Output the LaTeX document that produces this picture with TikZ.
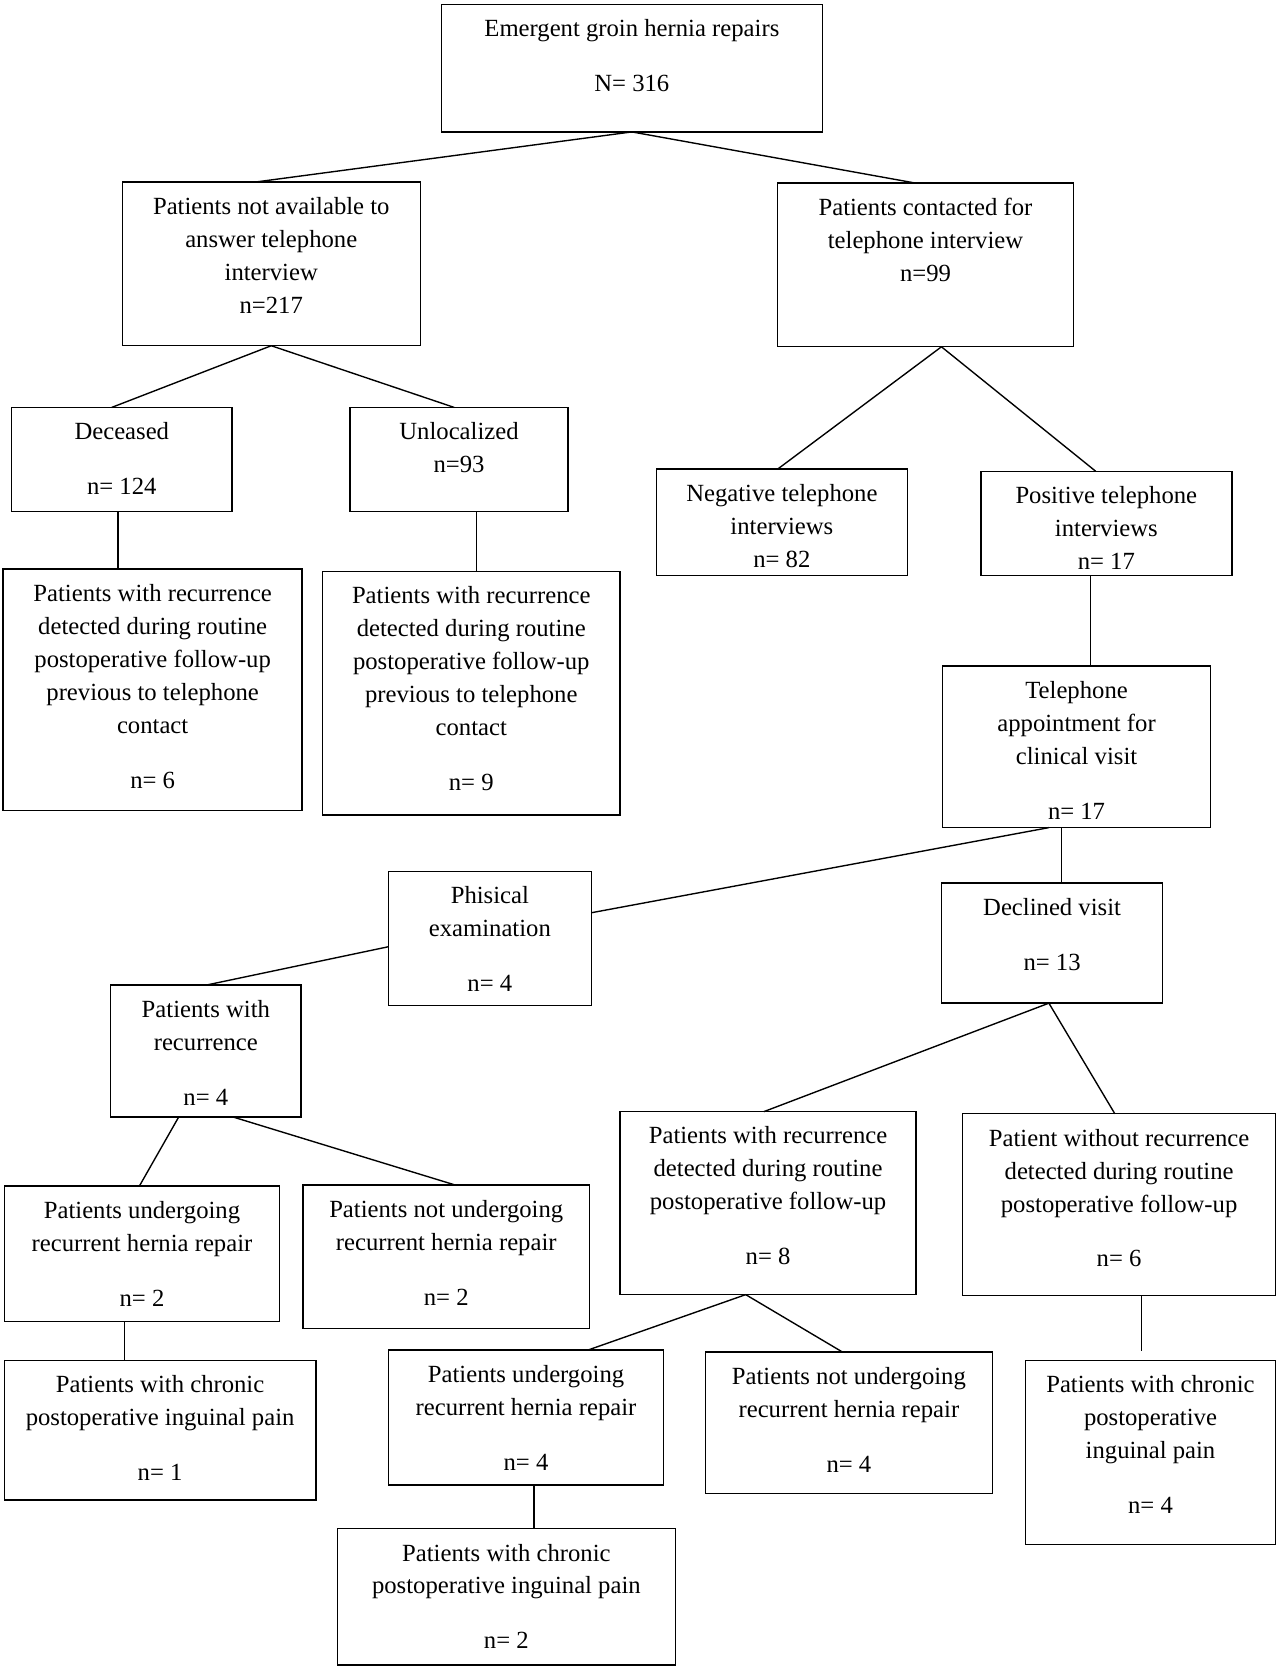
\documentclass[tikz,border=0pt]{standalone}
\usepackage{fontspec}
\setmainfont{Liberation Serif}
\usetikzlibrary{calc}
\tikzset{
  boxst/.style={draw=black, line width=1.3pt, inner sep=0pt, outer sep=0pt, rectangle},
  txt/.style={inner sep=0pt, outer sep=0pt, align=center, font=\fontsize{23.2}{31}\selectfont, execute at begin node=\strut},
  link/.style={draw=black, line width=1.3pt},
}
\newcommand\mybox[6]{%
  \node[boxst, minimum width={(#4)-(#2)}, minimum height={(#5)-(#3)}] (#1) at ({((#2)+(#4))/2},{-((#3)+(#5))/2}) {};
  \node[txt, anchor=north] (#1t) at ({((#2)+(#4))/2},{-(#3)-14.3}) {#6};
}
\begin{document}
\begin{tikzpicture}[x=1pt, y=1pt]
\fill[white] (0,0) rectangle (1203,-1568);
\useasboundingbox (0,0) rectangle (1203,-1568);

\mybox{A}{415}{4}{773}{124}{Emergent groin hernia repairs\\[20.5pt]N= 316}
\mybox{B}{115}{171}{395}{325}{Patients not available to\\answer telephone\\interview\\n=217}
\mybox{C}{731}{172}{1009}{326}{Patients contacted for\\telephone interview\\n=99}
\mybox{D}{11}{383}{218}{481}{Deceased\\[20.5pt]n= 124}
\mybox{E}{329}{383}{534}{481}{Unlocalized\\n=93}
\mybox{F}{3}{535}{284}{762}{Patients with recurrence\\detected during routine\\postoperative follow-up\\previous to telephone\\contact\\[20.5pt]n= 6}
\mybox{G}{303}{537}{583}{766}{Patients with recurrence\\detected during routine\\postoperative follow-up\\previous to telephone\\contact\\[20.5pt]n= 9}
\mybox{H}{617}{441}{853}{541}{Negative telephone\\interviews\\n= 82}
\mybox{I}{922}{443}{1158}{541}{Positive telephone\\interviews\\n= 17}
\mybox{J}{886}{626}{1138}{778}{Telephone\\appointment for\\clinical visit\\[20.5pt]n= 17}
\mybox{K}{365}{819}{556}{945}{Phisical\\examination\\[20.5pt]n= 4}
\mybox{L}{885}{830}{1093}{943}{Declined visit\\[20.5pt]n= 13}
\mybox{M}{104}{926}{283}{1050}{Patients with\\recurrence\\[20.5pt]n= 4}
\mybox{N}{4}{1115}{263}{1242}{Patients undergoing\\recurrent hernia repair\\[20.5pt]n= 2}
\mybox{O}{285}{1114}{554}{1249}{Patients not undergoing\\recurrent hernia repair\\[20.5pt]n= 2}
\mybox{P}{583}{1045}{861}{1217}{Patients with recurrence\\detected during routine\\postoperative follow-up\\[20.5pt]n= 8}
\mybox{Q}{905}{1047}{1199}{1218}{Patient without recurrence\\detected during routine\\postoperative follow-up\\[20.5pt]n= 6}
\mybox{R}{4}{1279}{297}{1410}{Patients with chronic\\postoperative inguinal pain\\[20.5pt]n= 1}
\mybox{S}{365}{1269}{624}{1396}{Patients undergoing\\recurrent hernia repair\\[20.5pt]n= 4}
\mybox{T}{663}{1271}{933}{1404}{Patients not undergoing\\recurrent hernia repair\\[20.5pt]n= 4}
\mybox{U}{964}{1279}{1199}{1452}{Patients with chronic\\postoperative\\inguinal pain\\[20.5pt]n= 4}
\mybox{V}{317}{1437}{635}{1565}{Patients with chronic\\postoperative inguinal pain\\[20.5pt]n= 2}

\coordinate (Uend) at (1073,-1270);

\draw[link] (A.south) -- (241,0 |- B.north);
\draw[link] (A.south) -- (860,0 |- C.north);
\draw[link] (B.south) -- (105,0 |- D.north);
\draw[link] (B.south) -- (427,0 |- E.north);
\draw[link] (111,0 |- D.south) -- (111,0 |- F.north);
\draw[link] (448,0 |- E.south) -- (448,0 |- G.north);
\draw[link] (885,0 |- C.south) -- (731,0 |- H.north);
\draw[link] (885,0 |- C.south) -- (1030,0 |- I.north);
\draw[link] (1025,0 |- I.south) -- (1025,0 |- J.north);
\draw[link] (986,0 |- J.south) -- (K.east |- 0,-858);
\draw[link] (998,0 |- J.south) -- (998,0 |- L.north);
\draw[link] (K.west |- 0,-890) -- (194,0 |- M.north);
\draw[link] (168,0 |- M.south) -- (131,0 |- N.north);
\draw[link] (219,0 |- M.south) -- (428,0 |- O.north);
\draw[link] (117,0 |- N.south) -- (117,0 |- R.north);
\draw[link] (986,0 |- L.south) -- (718,0 |- P.north);
\draw[link] (986,0 |- L.south) -- (1048,0 |- Q.north);
\draw[link] (701,0 |- P.south) -- (553,0 |- S.north);
\draw[link] (701,0 |- P.south) -- (792,0 |- T.north);
\draw[link] (1073,0 |- Q.south) -- (Uend);
\draw[link] (502,0 |- S.south) -- (502,0 |- V.north);
\end{tikzpicture}
\end{document}
